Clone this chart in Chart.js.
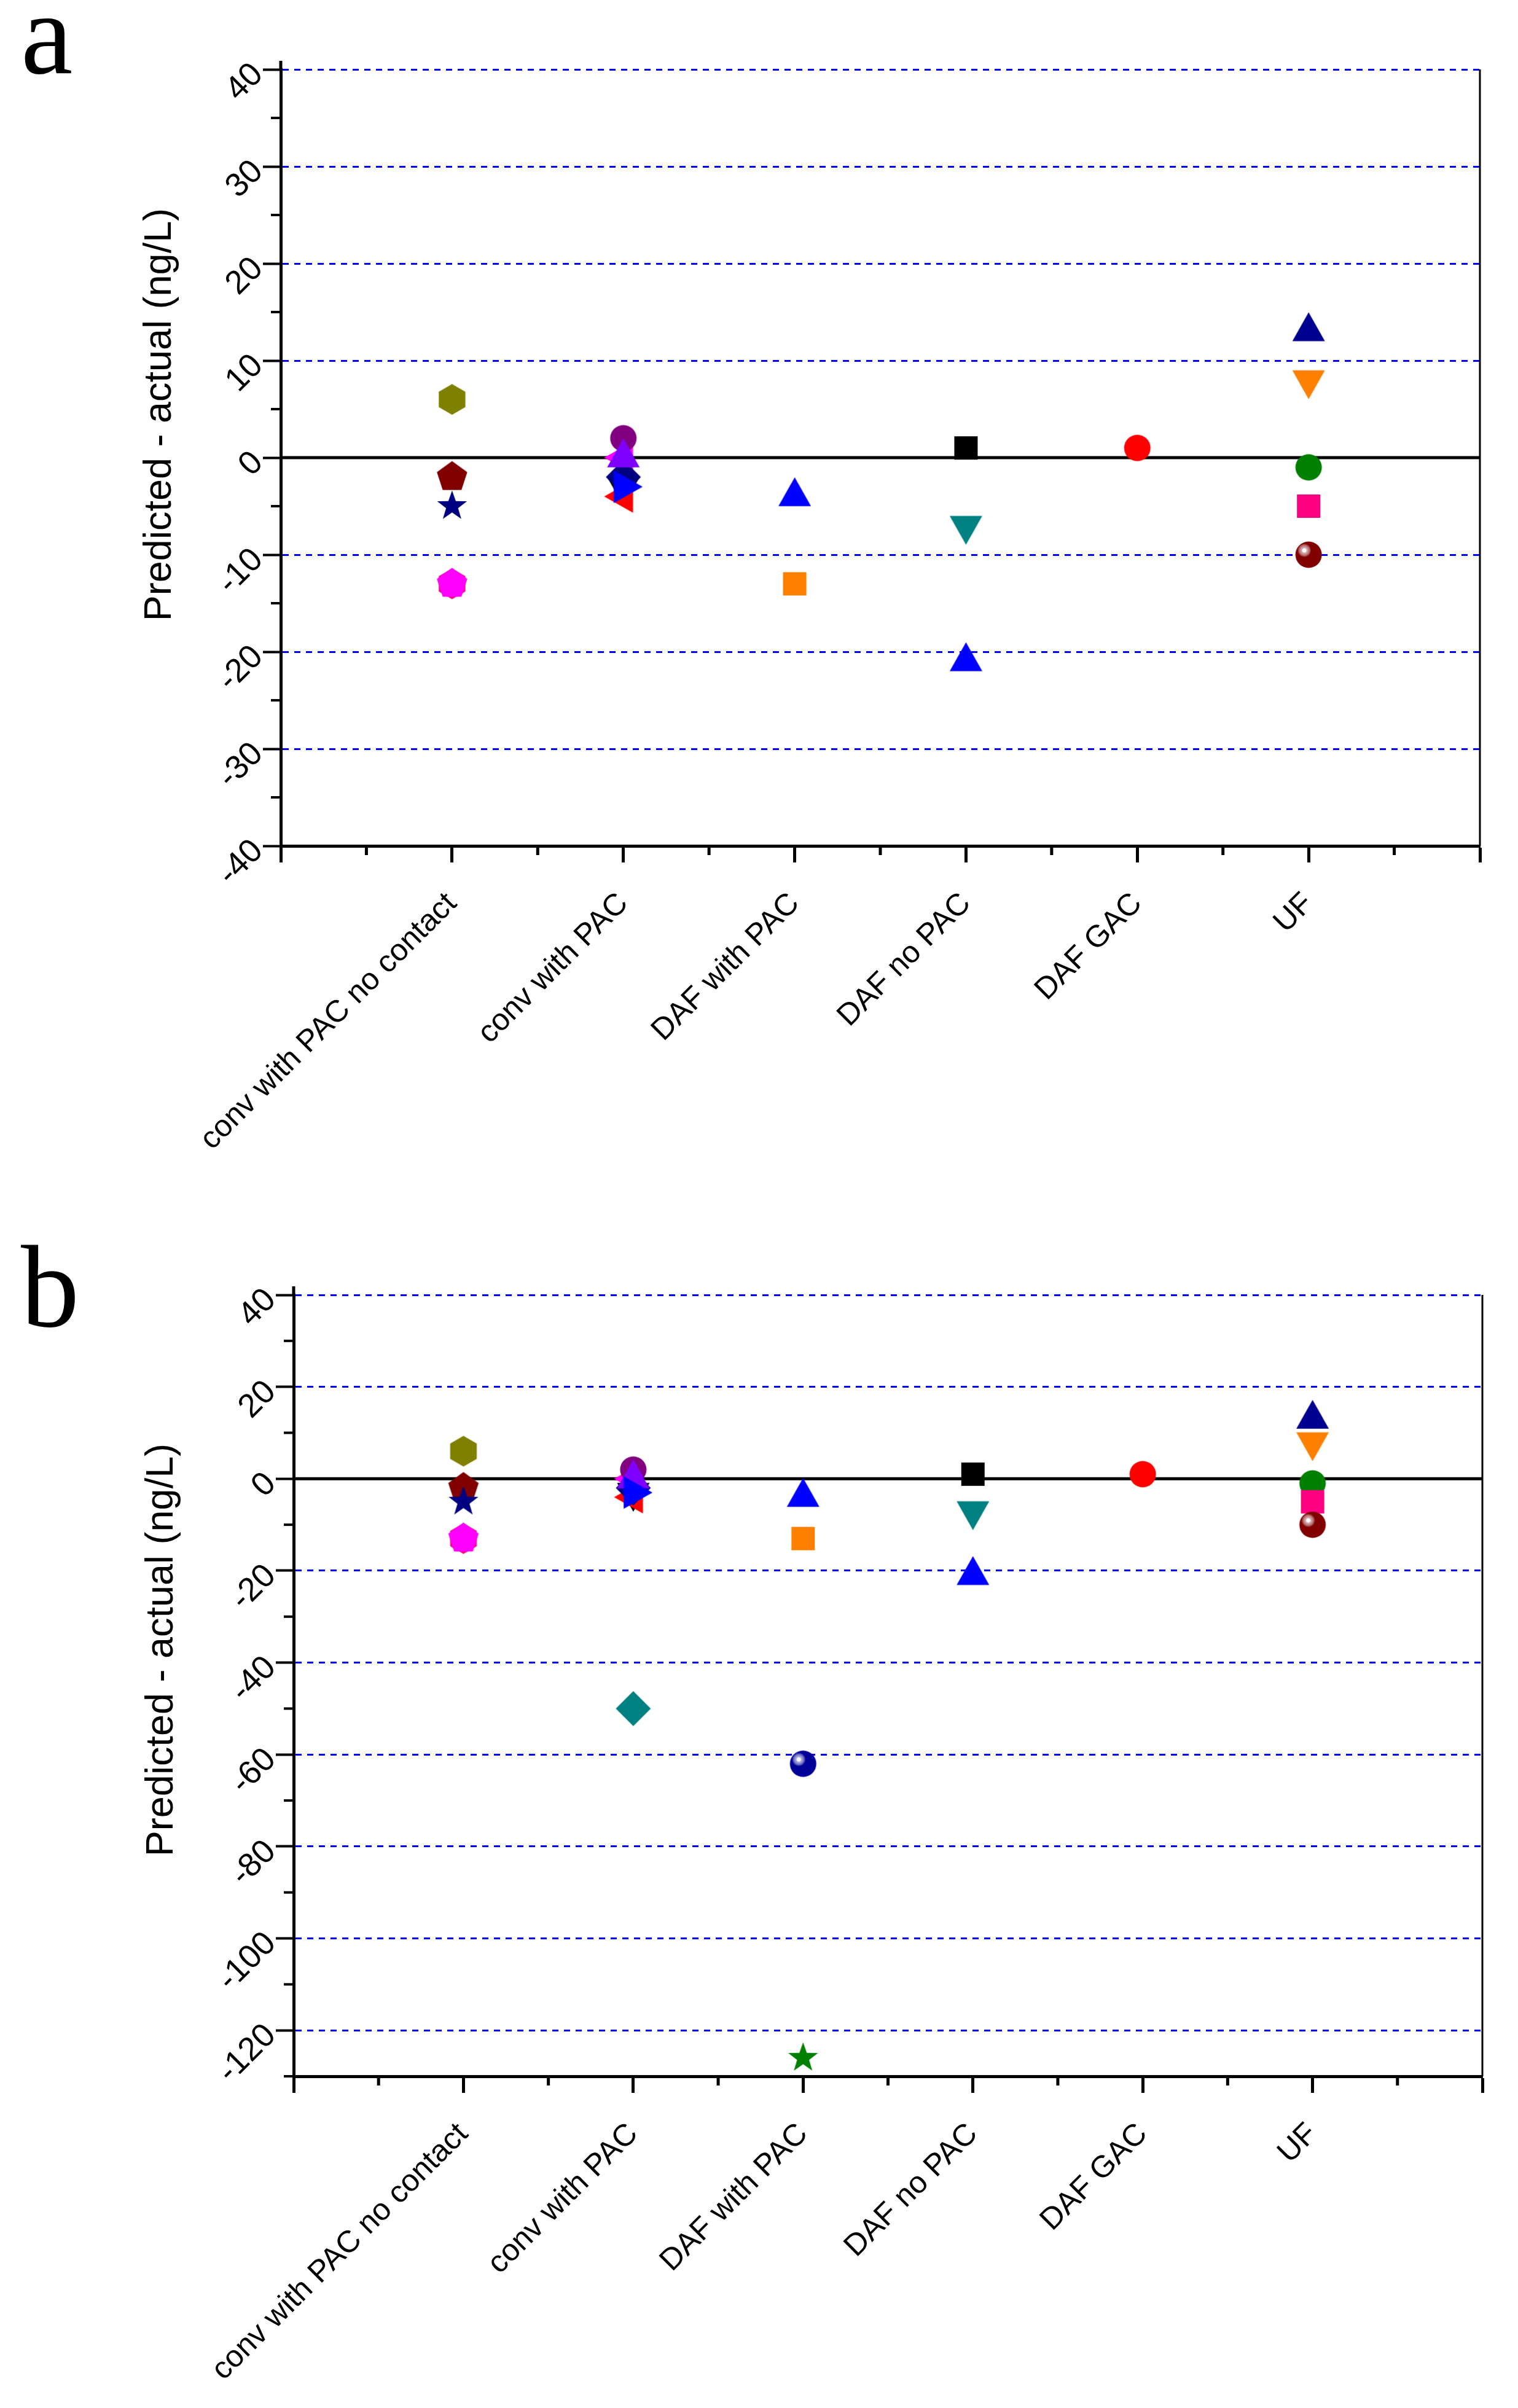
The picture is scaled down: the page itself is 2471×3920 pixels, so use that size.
<!DOCTYPE html>
<html>
<head>
<meta charset="utf-8">
<script src="https://cdn.jsdelivr.net/npm/chart.js@4.4.1/dist/chart.umd.min.js"></script>
<style>
html,body{margin:0;padding:0;background:#fff;}
body{width:2471px;height:3920px;position:relative;overflow:hidden;font-family:"Liberation Sans",Arial,sans-serif;}
canvas{position:absolute;left:0;}
#cA{top:0;}
#cB{top:1960px;}
.letter{position:absolute;font-family:"Liberation Serif","Times New Roman",serif;font-size:190px;line-height:1;color:#000;}
.ytitle{position:absolute;font-size:63px;line-height:1;white-space:nowrap;color:#000;transform:translate(-50%,-50%) rotate(-90deg);}
</style>
</head>
<body>
<div class="letter" style="left:34px;top:-40px">a</div>
<div class="letter" style="left:34px;top:2000px">b</div>
<div class="ytitle" style="left:256px;top:675px">Predicted - actual (ng/L)</div>
<div class="ytitle" style="left:259px;top:2686px">Predicted - actual (ng/L)</div>
<canvas id="cA" width="2471" height="1960"></canvas>
<canvas id="cB" width="2471" height="1960"></canvas>
<script>
// categories on the x axis (placed at x = 1..6)
const categories = ['conv with PAC no contact', 'conv with PAC', 'DAF with PAC', 'DAF no PAC', 'DAF GAC', 'UF'];

// one entry per marker, drawn in this order (later ones on top)
const markerCategory = [1, 1, 1, 1, 1, 2, 2, 2, 2, 2, 2, 2, 2, 3, 3, 3, 3, 4, 4, 4, 5, 6, 6, 6, 6, 6];
const markerShape = ['hexagon', 'pentagon', 'star', 'hexagon', 'pentagon',
  'triLeft', 'triDown', 'triLeft', 'diamond', 'circle', 'triUp', 'triRight', 'diamond',
  'triUp', 'square', 'sphere', 'star',
  'square', 'triDown', 'triUp',
  'circle',
  'triUp', 'triDown', 'circle', 'square', 'sphere'];
const markerColor = ['#808000', '#800000', '#000080', '#ff0080', '#ff00ff',
  '#ff00ff', '#000000', '#ff0000', '#000080', '#800080', '#8000ff', '#0000ff', '#008080',
  '#0000ff', '#ff8000', '#000099', '#008000',
  '#000000', '#008080', '#0000ff',
  '#ff0000',
  '#000090', '#ff8000', '#008000', '#ff0080', '#800000'];
// panel a (null = not shown) and panel b values, ng/L
const valuesA = [6, -2, -5, -13, -13, 0, -3, -4, -2, 2, 0, -3, null, -4, -13, null, null, 1, -7, -21, 1, 13, 8, -1, -5, -10];
const valuesB = [6, -2, -5, -13, -13, 0, -3, -4, -2, 2, 0, -3, -50, -4, -13, -62, -126, 1, -7, -21, 1, 13, 8, -1, -5, -10];

// y axis ranges and steps [labelled, minor]
const yRangeA = [-40, 40];
const yStepsA = [10, 5];
const yRangeB = [-130, 40];
const yStepsB = [20, 10];
const xRange = [0, 7];

function mix(hex, t){
  const n = parseInt(hex.slice(1), 16);
  const r = n >> 16, g = (n >> 8) & 255, b = n & 255;
  const f = c => Math.round(c + (255 - c) * t);
  return 'rgb(' + f(r) + ',' + f(g) + ',' + f(b) + ')';
}

function makeMarker(shape, color){
  const c = document.createElement('canvas');
  c.width = c.height = 68;
  const g = c.getContext('2d');
  g.translate(34, 34);
  g.fillStyle = color;
  g.beginPath();
  const poly = (n, R) => {
    for (let k = 0; k < n; k++){ const a = k * 2 * Math.PI / n; g.lineTo(R * Math.sin(a), -R * Math.cos(a)); }
    g.closePath();
  };
  if (shape === 'circle') g.arc(0, 0, 21.5, 0, 2 * Math.PI);
  else if (shape === 'square') g.rect(-19, -19, 38, 38);
  else if (shape === 'diamond'){ g.moveTo(0, -28.5); g.lineTo(28.5, 0); g.lineTo(0, 28.5); g.lineTo(-28.5, 0); g.closePath(); }
  else if (shape === 'hexagon') poly(6, 25);
  else if (shape === 'pentagon') poly(5, 26);
  else if (shape === 'star'){
    for (let k = 0; k < 10; k++){ const R = k % 2 ? 10.3 : 25.5; const a = k * Math.PI / 5; g.lineTo(R * Math.sin(a), -R * Math.cos(a)); }
    g.closePath();
  } else if (shape.startsWith('tri')){
    const rot = {triUp: 0, triRight: 90, triDown: 180, triLeft: 270}[shape];
    g.rotate(rot * Math.PI / 180);
    g.moveTo(0, -31.3); g.lineTo(26.5, 15.7); g.lineTo(-26.5, 15.7); g.closePath();
  } else if (shape === 'sphere'){
    const grad = g.createRadialGradient(-7, -7, 0, -7, -7, 30);
    grad.addColorStop(0, '#ffffff');
    grad.addColorStop(0.1, '#ffffff');
    grad.addColorStop(0.13, mix(color, 0.7));
    grad.addColorStop(0.22, mix(color, 0.55));
    grad.addColorStop(0.3, mix(color, 0.35));
    grad.addColorStop(0.37, color);
    grad.addColorStop(1, color);
    g.fillStyle = grad;
    g.arc(0, 0, 21.5, 0, 2 * Math.PI);
  }
  g.fill();
  return c;
}

// minor ticks, right frame line, small overshoot of the y axis
const framePlugin = {
  id: 'frame',
  afterDraw(chart, args, opts){
    const {ctx, chartArea: a, scales: {x, y}} = chart;
    const line = (x1, y1, x2, y2) => { ctx.beginPath(); ctx.moveTo(x1, y1); ctx.lineTo(x2, y2); ctx.stroke(); };
    ctx.save();
    ctx.strokeStyle = '#000';
    ctx.lineWidth = 5;
    for (let v = x.min + 0.5; v < x.max; v += 1){ const px = x.getPixelForValue(v); line(px, a.bottom, px, a.bottom + 15); }
    ctx.lineWidth = 4;
    for (let v = y.min; v <= y.max; v += opts.minor){
      if (v % opts.major !== 0){ const py = y.getPixelForValue(v); line(a.left - 16, py, a.left, py); }
    }
    ctx.lineWidth = 3;
    line(a.right, a.top, a.right, a.bottom);
    ctx.lineWidth = 5;
    line(a.left, a.top - 14, a.left, a.top);
    ctx.restore();
  }
};

function buildChart(id, values, yRange, ySteps, box){
  const datasets = [{
    type: 'line',
    data: [{x: xRange[0], y: 0}, {x: xRange[1], y: 0}],
    borderColor: '#000', borderWidth: 5, pointRadius: 0, order: 1000
  }];
  values.forEach((v, i) => {
    if (v === null) return;
    datasets.push({
      data: [{x: markerCategory[i], y: v}],
      pointStyle: makeMarker(markerShape[i], markerColor[i]),
      pointRadius: 20, order: -i, clip: false
    });
  });
  const [major, minor] = ySteps;
  return new Chart(document.getElementById(id), {
    type: 'scatter',
    data: {datasets},
    plugins: [framePlugin],
    options: {
      responsive: false, animation: false, devicePixelRatio: 1,
      layout: {padding: {top: box.top, right: box.right, bottom: 0, left: 0}},
      plugins: {legend: {display: false}, tooltip: {enabled: false}, frame: {major, minor}},
      scales: {
        x: {
          type: 'linear', min: xRange[0], max: xRange[1],
          afterFit: s => { s.height = box.xh; s.paddingLeft = 0; s.paddingRight = 0; },
          border: {color: '#000', width: 5},
          grid: {
            drawOnChartArea: false, tickLength: 27, tickWidth: 5,
            tickColor: c => Number.isInteger(c.tick.value) ? '#000' : 'rgba(0,0,0,0)'
          },
          ticks: {
            stepSize: 0.5, autoSkip: false, minRotation: 45, maxRotation: 45, padding: 38,
            color: '#000', font: {family: '"Liberation Sans", Arial, sans-serif', size: 50},
            callback: v => (Number.isInteger(v) && v >= 1 && v <= categories.length) ? categories[v - 1] : ''
          }
        },
        y: {
          min: yRange[0], max: yRange[1],
          afterFit: s => { s.width = box.left; s.paddingTop = 0; s.paddingBottom = 0; },
          border: {color: '#000', width: 5, dash: [10, 9]},
          grid: {
            lineWidth: 3, tickLength: 29, tickWidth: 4,
            color: c => (c.tick.value % major === 0 && c.tick.value !== 0 && c.tick.value !== yRange[0]) ? '#0000ff' : 'rgba(0,0,0,0)',
            tickColor: c => c.tick.value % major === 0 ? '#000' : 'rgba(0,0,0,0)'
          },
          ticks: {
            stepSize: minor, autoSkip: false, minRotation: 45, maxRotation: 45, padding: 8,
            color: '#000', font: {family: '"Liberation Sans Narrow", "Liberation Sans", Arial, sans-serif', size: 54},
            callback: v => v % major === 0 ? String(v) : ''
          }
        }
      }
    }
  });
}

buildChart('cA', valuesA, yRangeA, yStepsA, {top: 113, right: 62, left: 457, xh: 583});
buildChart('cB', valuesB, yRangeB, yStepsB, {top: 148, right: 58, left: 478, xh: 540});
</script>
</body>
</html>
